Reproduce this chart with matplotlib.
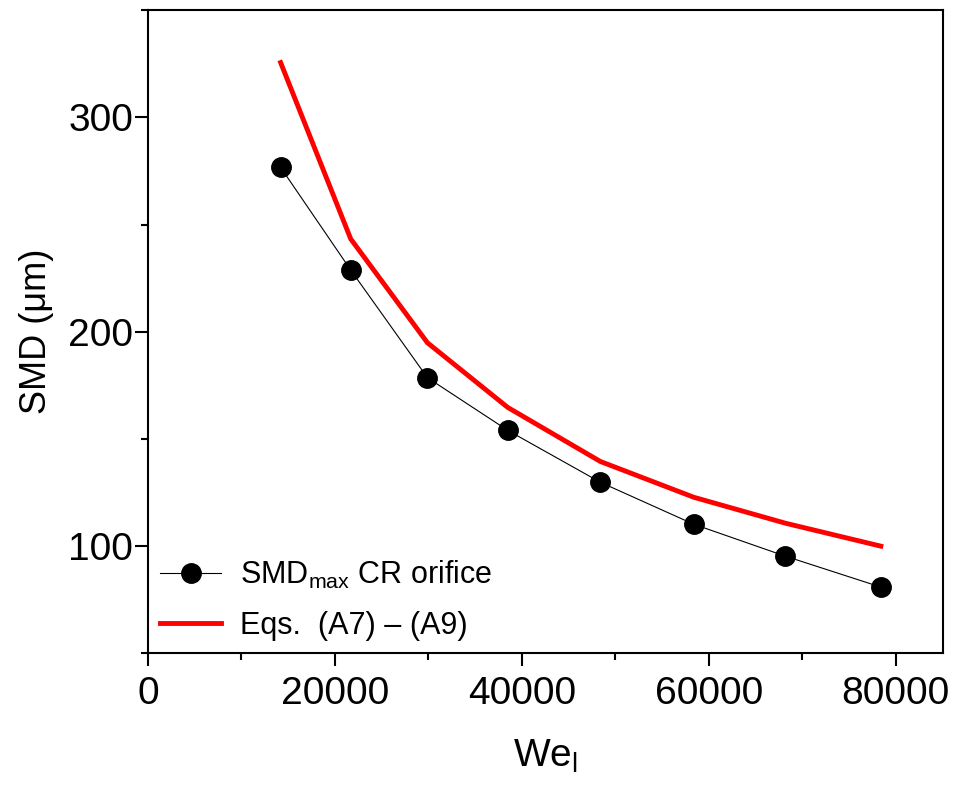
import matplotlib
matplotlib.use("Agg")
import matplotlib.pyplot as plt
from matplotlib.ticker import MultipleLocator

plt.rcParams['font.family'] = ['Liberation Sans', 'DejaVu Sans']
plt.rcParams['mathtext.fontset'] = 'custom'
plt.rcParams['mathtext.rm'] = 'Liberation Sans'
plt.rcParams['mathtext.it'] = 'Liberation Sans:italic'

we = [14200, 21700, 29900, 38500, 48400, 58400, 68200, 78400]
smd_measured = [276.7, 228.8, 178.6, 154.0, 129.8, 110.2, 95.3, 80.9]
smd_eqs = [325.6, 243.3, 194.9, 164.7, 139.5, 122.8, 110.7, 100.0]

fig = plt.figure(figsize=(9.54, 7.9), dpi=100)
ax = fig.add_axes([0.155, 0.173, 0.833, 0.814])

ax.plot(we, smd_measured, color='black', lw=0.8, marker='o', markersize=14,
        markerfacecolor='black', markeredgecolor='black',
        label=r'SMD$_{\mathrm{max}}$ CR orifice')
ax.plot(we, smd_eqs, color='#ff0000', lw=3.5, label='Eqs.  (A7) – (A9)')

ax.set_xlim(0, 85000)
ax.set_ylim(50, 350)
ax.xaxis.set_major_locator(MultipleLocator(20000))
ax.xaxis.set_minor_locator(MultipleLocator(10000))
ax.yaxis.set_major_locator(MultipleLocator(100))
ax.yaxis.set_minor_locator(MultipleLocator(50))

ax.tick_params(which='major', direction='out', length=9.5, width=1.5, labelsize=28)
ax.tick_params(axis='x', which='major', pad=7)
ax.tick_params(axis='y', which='major', pad=1)
ax.tick_params(which='minor', direction='out', length=5, width=1.5)
for s in ax.spines.values():
    s.set_linewidth(1.5)

ax.set_xlabel(r'We$_{\mathrm{l}}$', fontsize=28, labelpad=18)
ax.set_ylabel('SMD (μm)', fontsize=26, labelpad=10)

ax.legend(loc='lower left', frameon=False, fontsize=22, handlelength=2.0,
          borderaxespad=0.2, handletextpad=0.6, labelspacing=0.65,
          borderpad=0.2, bbox_to_anchor=(0.0, 0.0))

fig.savefig('out.png', dpi=100)
